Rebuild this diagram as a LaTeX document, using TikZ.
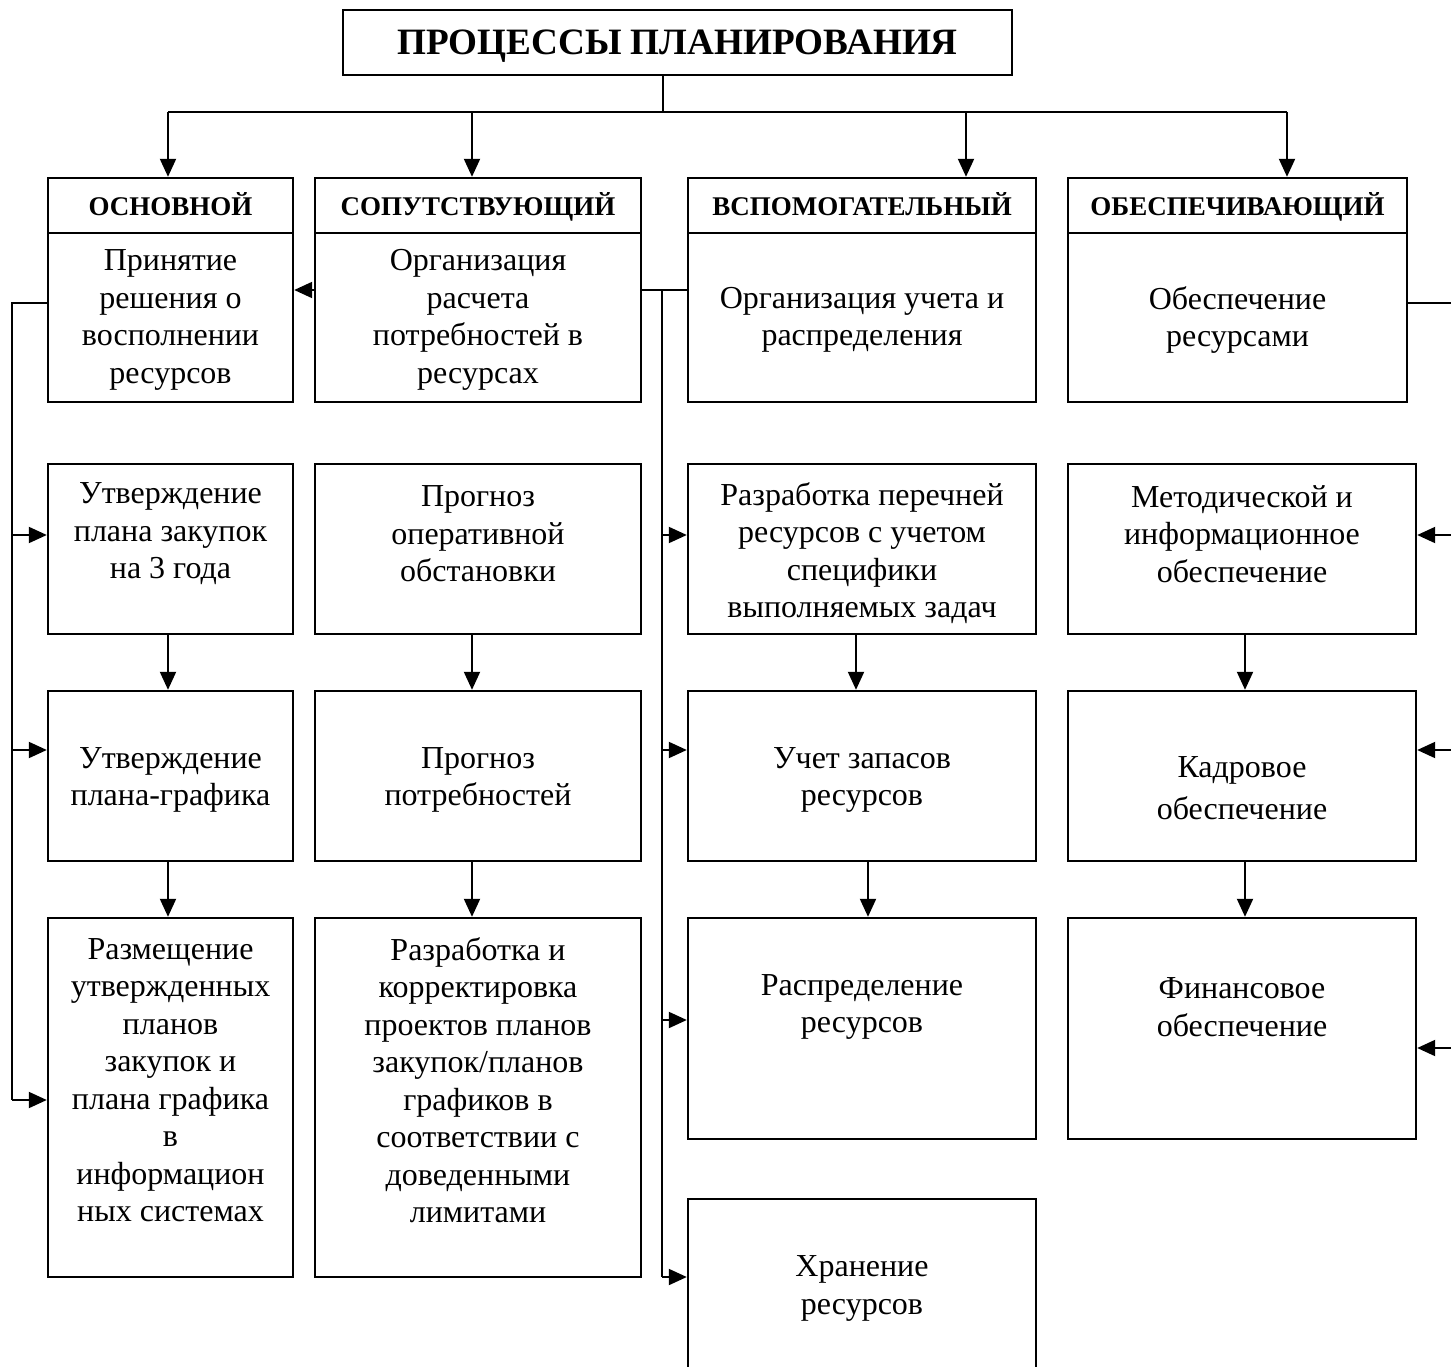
\documentclass[tikz,border=0pt]{standalone}
\usepackage{fontspec}
\setmainfont{Liberation Serif}
\usetikzlibrary{arrows.meta}
\begin{document}
\begin{tikzpicture}[x=1pt,y=-1pt,
  box/.style={draw,line width=2.4pt,inner sep=0pt},
  hdr/.style={box,font=\fontsize{27}{30}\selectfont\bfseries,text height=19pt,text depth=0pt},
  txt/.style={align=center,inner sep=0pt,font=\fontsize{32}{37.5}\selectfont,yshift=-3pt},
  conn/.style={line width=2pt},
  arr/.style={conn,-{Triangle[length=18pt,width=16pt]}}]
\useasboundingbox (0,0) rectangle (1451,1367);
\clip (0,0) rectangle (1451,1367);
\fill[white] (0,0) rectangle (1451,1367);
% title
\node[box,minimum width=669pt,minimum height=65pt,text height=25pt,text depth=0pt,font=\fontsize{37.2}{40}\selectfont\bfseries] (title) at (677.5,42.5) {ПРОЦЕССЫ ПЛАНИРОВАНИЯ};
% headers
\node[hdr,minimum width=245pt,minimum height=55pt] (h1) at (170.5,205.5) {ОСНОВНОЙ};
\node[hdr,minimum width=326pt,minimum height=55pt] (h2) at (478,205.5) {СОПУТСТВУЮЩИЙ};
\node[hdr,minimum width=348pt,minimum height=55pt] (h3) at (862,205.5) {ВСПОМОГАТЕЛЬНЫЙ};
\node[hdr,minimum width=339pt,minimum height=55pt] (h4) at (1237.5,205.5) {ОБЕСПЕЧИВАЮЩИЙ};
% row 1 bodies
\node[box,minimum width=245pt,minimum height=169pt] (b1) at (170.5,317.5) {};
\node[box,minimum width=326pt,minimum height=169pt] (b2) at (478,317.5) {};
\node[box,minimum width=348pt,minimum height=169pt] (b3) at (862,317.5) {};
\node[box,minimum width=339pt,minimum height=169pt] (b4) at (1237.5,317.5) {};
% row 2
\node[box,minimum width=245pt,minimum height=170pt] (r21) at (170.5,549) {};
\node[box,minimum width=326pt,minimum height=170pt] (r22) at (478,549) {};
\node[box,minimum width=348pt,minimum height=170pt] (r23) at (862,549) {};
\node[box,minimum width=348pt,minimum height=170pt] (r24) at (1242,549) {};
% row 3
\node[box,minimum width=245pt,minimum height=170pt] (r31) at (170.5,776) {};
\node[box,minimum width=326pt,minimum height=170pt] (r32) at (478,776) {};
\node[box,minimum width=348pt,minimum height=170pt] (r33) at (862,776) {};
\node[box,minimum width=348pt,minimum height=170pt] (r34) at (1242,776) {};
% row 4
\node[box,minimum width=245pt,minimum height=359pt] (r41) at (170.5,1097.5) {};
\node[box,minimum width=326pt,minimum height=359pt] (r42) at (478,1097.5) {};
\node[box,minimum width=348pt,minimum height=221pt] (r43) at (862,1028.5) {};
\node[box,minimum width=348pt,minimum height=221pt] (r44) at (1242,1028.5) {};
% row 5
\node[box,minimum width=348pt,minimum height=201pt] (r53) at (862,1299.5) {};
% texts
\node[txt] (t1) at (170.5,317) {Принятие\\решения о\\восполнении\\ресурсов};
\node[txt] (t2) at (478,317) {Организация\\расчета\\потребностей в\\ресурсах};
\node[txt] (t3) at (862,317) {Организация учета и\\распределения};
\node[txt] (t4) at (1237.5,317) {Обеспечение\\ресурсами};
\node[txt] (t21) at (170.5,531) {Утверждение\\плана закупок\\на 3 года};
\node[txt] (t22) at (478,531) {Прогноз\\оперативной\\обстановки};
\node[txt] (t23) at (862,550) {Разработка перечней\\ресурсов с учетом\\специфики\\выполняемых задач};
\node[txt] (t24) at (1242,531) {Методической и\\информационное\\обеспечение};
\node[txt] (t31) at (170.5,777) {Утверждение\\плана-графика};
\node[txt] (t32) at (478,777) {Прогноз\\потребностей};
\node[txt] (t33) at (862,777) {Учет запасов\\ресурсов};
\node[txt,font=\fontsize{32}{42}\selectfont] (t34) at (1242,785) {Кадровое\\обеспечение};
\node[txt] (t41) at (170.5,1077) {Размещение\\утвержденных\\планов\\закупок и\\плана графика\\в\\информацион\\ных системах};
\node[txt] (t42) at (478,1077) {Разработка и\\корректировка\\проектов планов\\закупок/планов\\графиков в\\соответствии с\\доведенными\\лимитами};
\node[txt] (t43) at (862,1004) {Распределение\\ресурсов};
\node[txt] (t44) at (1242,1004) {Финансовое\\обеспечение};
\node[txt] (t53) at (862,1285.5) {Хранение\\ресурсов};
% top bus
\coordinate (bus) at (663,112);
\coordinate (bA) at (168,112);
\coordinate (bB) at (472,112);
\coordinate (bC) at (966,112);
\coordinate (bD) at (1287,112);
\draw[conn] (title.south -| bus) -- (bus);
\draw[conn] (bA) -- (bD);
\draw[arr] (bA) -- (bA |- h1.north);
\draw[arr] (bB) -- (bB |- h2.north);
\draw[arr] (bC) -- (bC |- h3.north);
\draw[arr] (bD) -- (bD |- h4.north);
% col2 -> col1 and middle bus
\coordinate (MB) at (662,290);
\draw[arr] (b2.west |- MB) -- (b1.east |- MB);
\draw[conn] (b2.east |- MB) -- (b3.west |- MB);
\coordinate (M2) at (662,535);
\coordinate (M3) at (662,750);
\coordinate (M4) at (662,1020);
\coordinate (M5) at (662,1277);
\draw[conn] (MB) -- (M5);
\draw[arr] (M2) -- (M2 -| r23.west);
\draw[arr] (M3) -- (M3 -| r33.west);
\draw[arr] (M4) -- (M4 -| r43.west);
\draw[arr] (M5) -- (M5 -| r53.west);
% left bus
\coordinate (LB) at (12,303);
\coordinate (L2) at (12,535);
\coordinate (L3) at (12,750);
\coordinate (L4) at (12,1100);
\draw[conn] (b1.west |- LB) -- (LB) -- (L4);
\draw[arr] (L2) -- (L2 -| r21.west);
\draw[arr] (L3) -- (L3 -| r31.west);
\draw[arr] (L4) -- (L4 -| r41.west);
% right bus
\coordinate (RB) at (1462,303);
\coordinate (R2) at (1462,535);
\coordinate (R3) at (1462,750);
\coordinate (R4) at (1462,1048);
\draw[conn] (b4.east |- RB) -- (RB) -- (R4);
\draw[arr] (R2) -- (R2 -| r24.east);
\draw[arr] (R3) -- (R3 -| r34.east);
\draw[arr] (R4) -- (R4 -| r44.east);
% vertical arrows
\draw[arr] ([xshift=-2.5pt]r21.south) -- ([xshift=-2.5pt]r31.north);
\draw[arr] ([xshift=-2.5pt]r31.south) -- ([xshift=-2.5pt]r41.north);
\draw[arr] ([xshift=-6pt]r22.south) -- ([xshift=-6pt]r32.north);
\draw[arr] ([xshift=-6pt]r32.south) -- ([xshift=-6pt]r42.north);
\draw[arr] ([xshift=-6pt]r23.south) -- ([xshift=-6pt]r33.north);
\draw[arr] ([xshift=6pt]r33.south) -- ([xshift=6pt]r43.north);
\draw[arr] ([xshift=3pt]r24.south) -- ([xshift=3pt]r34.north);
\draw[arr] ([xshift=3pt]r34.south) -- ([xshift=3pt]r44.north);
\end{tikzpicture}
\end{document}
